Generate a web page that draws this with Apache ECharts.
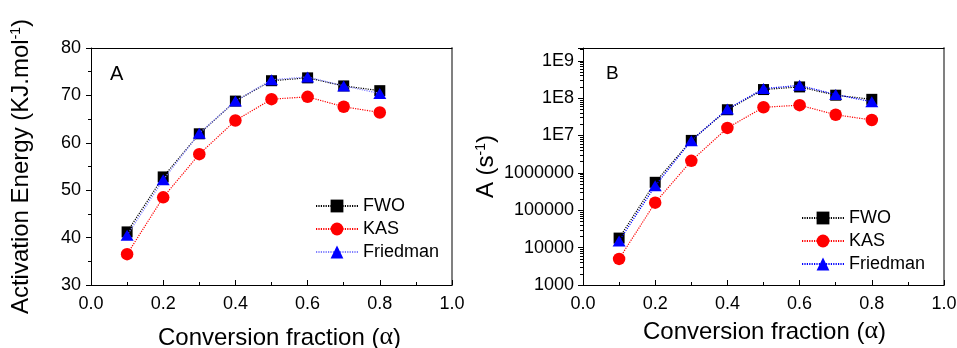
<!DOCTYPE html>
<html>
<head>
<meta charset="utf-8">
<script src="https://cdn.jsdelivr.net/npm/echarts@6/dist/echarts.min.js"></script>
<style>
html,body{margin:0;padding:0;background:#fff;}
#chart{width:957px;height:348px;}
</style>
</head>
<body>
<div id="chart"></div>
<script>
// ---- data ----
const alpha = [0.1, 0.2, 0.3, 0.4, 0.5, 0.6, 0.7, 0.8];

const eaFWO      = [41.2, 52.8, 61.9, 68.8, 73.1, 73.7, 72.0, 71.0];
const eaKAS      = [36.5, 48.5, 57.6, 64.7, 69.2, 69.7, 67.6, 66.4];
const eaFriedman = [40.5, 52.2, 62.0, 68.8, 73.3, 73.9, 72.0, 70.4];

const aFWO      = [1.8e4, 5.6e5, 7.4e6, 4.9e7, 1.7e8, 2.0e8, 1.2e8, 9.3e7];
const aKAS      = [5.0e3, 1.6e5, 2.1e6, 1.6e7, 5.7e7, 6.5e7, 3.6e7, 2.6e7];
const aFriedman = [1.5e4, 4.5e5, 7.3e6, 5.1e7, 1.8e8, 2.2e8, 1.25e8, 8.0e7];

const seriesNames = ['FWO', 'KAS', 'Friedman'];
const xTickLabels = ['0.0', '0.2', '0.4', '0.6', '0.8', '1.0'];
const eaTickLabels = ['30', '40', '50', '60', '70', '80'];
const logTickLabels = ['1000', '10000', '100000', '1000000', '1E7', '1E8', '1E9'];
const logMinorMultipliers = [2, 3, 4, 5, 6, 7, 8, 9];

// ---- helpers ----
const FONT = "'Liberation Sans', Arial, sans-serif";
const pairs = (xs, ys) => xs.map((x, i) => [x, ys[i]]);
const logMinorTicks = [];
for (let e = 3; e <= 9; e++) {
  logMinorMultipliers.forEach(m => { const v = m * Math.pow(10, e); if (v < 2.2e9) logMinorTicks.push(v); });
}

const labelStyle = { color: '#000', fontSize: 18, fontFamily: FONT };
const nameRich = {
  n:   { fontSize: 24, fontFamily: FONT, color: '#000', verticalAlign: 'bottom' },
  sup: { fontSize: 14, fontFamily: FONT, color: '#000', verticalAlign: 'top' },
  a:   { fontSize: 26, fontFamily: "'Liberation Serif', 'DejaVu Serif', serif", color: '#000', verticalAlign: 'bottom' }
};

function bottomX(gridIndex, gap, pad) {
  return {
    type: 'value', gridIndex, min: 0, max: 1, interval: 0.2, position: 'bottom',
    name: '{n|Conversion fraction (}{a|α}{n|)}', nameLocation: 'middle', nameGap: gap,
    nameMoveOverlap: false,
    nameTextStyle: { rich: nameRich, padding: pad },
    axisLine: { show: true, onZero: false, lineStyle: { color: '#000', width: 1 } },
    axisTick: { show: true, inside: true, length: 5, lineStyle: { color: '#000' } },
    minorTick: { show: true, splitNumber: 2, length: 3, lineStyle: { color: '#000' } },
    axisLabel: { ...labelStyle, margin: 10, formatter: v => xTickLabels[Math.round(v / 0.2)] ?? '' },
    splitLine: { show: false }
  };
}
function topX(gridIndex) {
  return {
    type: 'value', gridIndex, min: 0, max: 1, position: 'top',
    axisLine: { show: true, onZero: false, lineStyle: { color: '#000', width: 1 } },
    axisTick: { show: false }, axisLabel: { show: false }, splitLine: { show: false }
  };
}
function rightBorderY(gridIndex) {
  return {
    type: 'value', gridIndex, min: 0, max: 1, position: 'right',
    axisLine: { show: true, onZero: false, lineStyle: { color: '#808080', width: 2 } },
    axisTick: { show: false }, axisLabel: { show: false }, splitLine: { show: false }
  };
}

function makeSeries(xi, yi, ys, name, friedLine) {
  const base = { type: 'line', xAxisIndex: xi, yAxisIndex: yi, name, z: 3 };
  if (name === 'FWO') return Object.assign(base, {
    data: pairs(alpha, ys), symbol: 'rect', symbolSize: 11,
    itemStyle: { color: '#000' }, lineStyle: { color: '#000', width: 1.2, type: [1.2, 1.2] }, z: 3
  });
  if (name === 'KAS') return Object.assign(base, {
    data: pairs(alpha, ys), symbol: 'circle', symbolSize: 12.5,
    itemStyle: { color: '#ff0000' }, lineStyle: { color: '#ff0000', width: 1.2, type: [1.2, 1.2] }, z: 4
  });
  return Object.assign(base, {
    data: pairs(alpha, ys), symbol: 'triangle', symbolSize: [13, 11],
    itemStyle: { color: '#0000ff' }, lineStyle: { color: friedLine, width: 1.2, type: [1.2, 1.2] }, z: 5
  });
}

const chart = echarts.init(document.getElementById('chart'), null, { renderer: 'canvas' });
chart.setOption({
  backgroundColor: '#fff',
  animation: false,
  textStyle: { fontFamily: FONT },
  grid: [
    { left: 91, top: 48, width: 361, height: 237, outerBoundsMode: 'none', containLabel: false },
    { left: 583, top: 48, width: 361, height: 237, outerBoundsMode: 'none', containLabel: false }
  ],
  title: [
    { text: 'A', left: 105, top: 59, textStyle: { fontSize: 20, fontWeight: 'normal', color: '#000', fontFamily: FONT } },
    { text: 'B', left: 601, top: 59, textStyle: { fontSize: 19, fontWeight: 'normal', color: '#000', fontFamily: FONT } }
  ],
  legend: [
    {
      orient: 'vertical', left: 310, top: 192, itemWidth: 42, itemHeight: 16, itemGap: 5,
      textStyle: { ...labelStyle }, selectedMode: false,
      data: [
        { name: 'FWO' }, { name: 'KAS' },
        { name: 'Friedman', lineStyle: { color: '#8080ff' } }
      ]
    },
    {
      orient: 'vertical', left: 796, top: 204, itemWidth: 42, itemHeight: 16, itemGap: 5,
      textStyle: { ...labelStyle }, selectedMode: false,
      data: [
        { name: 'FWO' }, { name: 'KAS' },
        { name: 'Friedman', lineStyle: { color: '#0000ff' } }
      ]
    }
  ],
  xAxis: [ bottomX(0, 39, [0, 0, 0, 16]), topX(0), bottomX(1, 33, [0, 0, 0, 2]), topX(1) ],
  yAxis: [
    {
      type: 'value', gridIndex: 0, min: 30, max: 80, interval: 10, position: 'left',
      name: '{n|Activation Energy (KJ.mol}{sup|-1}{n|)}', nameLocation: 'middle', nameGap: 58,
      nameMoveOverlap: false,
      nameTextStyle: { rich: nameRich },
      axisLine: { show: true, onZero: false, lineStyle: { color: '#000', width: 1 } },
      axisTick: { show: true, inside: false, length: 5, lineStyle: { color: '#000' } },
      minorTick: { show: true, splitNumber: 2, length: 3, lineStyle: { color: '#000' } },
      axisLabel: { ...labelStyle, margin: 10, formatter: v => eaTickLabels[Math.round((v - 30) / 10)] ?? '' },
      splitLine: { show: false }
    },
    rightBorderY(0),
    {
      type: 'log', gridIndex: 1, min: 1000, max: 2.2e9, logBase: 10, position: 'left',
      name: '{n|A (s}{sup|-1}{n|)}', nameLocation: 'middle', nameGap: 85,
      nameMoveOverlap: false,
      nameTextStyle: { rich: nameRich },
      axisLine: { show: true, onZero: false, lineStyle: { color: '#000', width: 1 } },
      axisTick: { show: true, inside: false, length: 5, lineStyle: { color: '#000' } },
      axisLabel: {
        ...labelStyle, margin: 9,
        formatter: v => {
          const e = Math.log10(v);
          const r = Math.round(e);
          if (Math.abs(e - r) > 1e-6) return '';
          return logTickLabels[r - 3] ?? '';
        }
      },
      splitLine: { show: false }
    },
    {
      type: 'log', gridIndex: 1, min: 1000, max: 2.2e9, logBase: 10, position: 'left',
      axisLine: { show: false },
      axisTick: { show: true, inside: false, length: 3, customValues: logMinorTicks, lineStyle: { color: '#000' } },
      axisLabel: { show: false },
      splitLine: { show: false }
    },
    rightBorderY(1)
  ],
  series: [
    makeSeries(0, 0, eaFWO, 'FWO'),
    makeSeries(0, 0, eaKAS, 'KAS'),
    makeSeries(0, 0, eaFriedman, 'Friedman', '#8080ff'),
    makeSeries(2, 2, aFWO, 'FWO'),
    makeSeries(2, 2, aKAS, 'KAS'),
    makeSeries(2, 2, aFriedman, 'Friedman', '#0000ff')
  ]
});
</script>
</body>
</html>
